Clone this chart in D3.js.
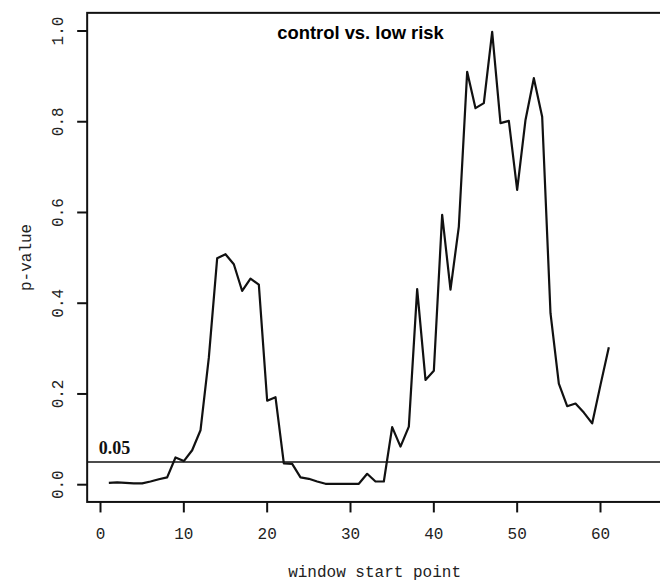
<!DOCTYPE html>
<html>
<head>
<meta charset="utf-8">
<script src="https://cdn.jsdelivr.net/npm/d3@7"></script>
<style>
  body { margin: 0; background: #fff; }
  svg { display: block; }
</style>
</head>
<body>
<svg id="chart" width="660" height="581"></svg>
<script>
// window start points and p-values
let windowStart = d3.range(1, 62)
let pValues = [
  0.004, 0.005, 0.004, 0.003, 0.003, 0.007, 0.012, 0.016, 0.060, 0.052,
  0.076, 0.120, 0.280, 0.499, 0.508, 0.486, 0.427, 0.454, 0.441, 0.185,
  0.193, 0.047, 0.046, 0.016, 0.013, 0.007, 0.002, 0.002, 0.002, 0.002,
  0.002, 0.024, 0.007, 0.007, 0.127, 0.084, 0.128, 0.431, 0.231, 0.251,
  0.595, 0.430, 0.569, 0.910, 0.830, 0.841, 0.998, 0.797, 0.802, 0.650,
  0.804, 0.896, 0.811, 0.378, 0.223, 0.173, 0.179, 0.159, 0.135, 0.220,
  0.303
]
let xTicks = [0, 10, 20, 30, 40, 50, 60]
let yTicks = [0.0, 0.2, 0.4, 0.6, 0.8, 1.0]
let cutoff = 0.05

let svg = d3.select('#chart')
let monoFont = '"Courier New", "Liberation Mono", "DejaVu Sans Mono", monospace'

let x = d3.scaleLinear().domain([0, 60]).range([100.5, 600.5])
let y = d3.scaleLinear().domain([0, 1]).range([484.7, 31])

// plot region (R style, extended a bit past data)
let plotLeft = x(-1.6)
let plotRight = 662
let plotTop = y(1.04)
let plotBottom = y(-0.038)

svg.append('rect')
  .attr('x', plotLeft).attr('y', plotTop)
  .attr('width', plotRight - plotLeft).attr('height', plotBottom - plotTop)
  .attr('fill', 'none')
  .attr('stroke', '#111')
  .attr('stroke-width', 2)

// x axis
let xAxis = svg.append('g').attr('class', 'x-axis')
xAxis.selectAll('line')
  .data(xTicks)
  .enter()
  .append('line')
  .attr('x1', d => x(d)).attr('x2', d => x(d))
  .attr('y1', plotBottom).attr('y2', plotBottom + 10.5)
  .attr('stroke', '#111').attr('stroke-width', 2)
xAxis.selectAll('text')
  .data(xTicks)
  .enter()
  .append('text')
  .attr('x', d => x(d))
  .attr('y', 538.5)
  .attr('text-anchor', 'middle')
  .style('font-family', monoFont)
  .style('font-size', '16px')
  .attr('fill', '#222')
  .text(d => d)

// y axis
let yAxis = svg.append('g').attr('class', 'y-axis')
yAxis.selectAll('line')
  .data(yTicks)
  .enter()
  .append('line')
  .attr('x1', plotLeft - 10).attr('x2', plotLeft)
  .attr('y1', d => y(d)).attr('y2', d => y(d))
  .attr('stroke', '#111').attr('stroke-width', 2)
yAxis.selectAll('text')
  .data(yTicks)
  .enter()
  .append('text')
  .attr('transform', d => `translate(62.5, ${y(d)}) rotate(-90)`)
  .attr('text-anchor', 'middle')
  .style('font-family', monoFont)
  .style('font-size', '16px')
  .attr('fill', '#222')
  .text(d => d3.format('.1f')(d))

// axis titles
svg.append('text')
  .attr('x', (plotLeft + plotRight) / 2)
  .attr('y', 577)
  .attr('text-anchor', 'middle')
  .style('font-family', monoFont)
  .style('font-size', '16px')
  .attr('fill', '#222')
  .text('window start point')

svg.append('text')
  .attr('transform', `translate(31, ${(plotTop + plotBottom) / 2}) rotate(-90)`)
  .attr('text-anchor', 'middle')
  .style('font-family', monoFont)
  .style('font-size', '16px')
  .attr('fill', '#222')
  .text('p-value')

// 0.05 cutoff line
svg.append('line')
  .attr('x1', plotLeft).attr('x2', plotRight)
  .attr('y1', y(cutoff)).attr('y2', y(cutoff))
  .attr('stroke', '#111')
  .attr('stroke-width', 1.6)

svg.append('text')
  .attr('x', x(-0.2))
  .attr('y', y(cutoff) - 8.5)
  .style('font-family', '"Liberation Serif", "Times New Roman", serif')
  .style('font-weight', 'bold')
  .style('font-size', '18px')
  .attr('fill', '#111')
  .text('0.05')

// p-value curve
let line = d3.line()
  .x((d, i) => x(windowStart[i]))
  .y(d => y(d))

svg.append('path')
  .datum(pValues)
  .attr('d', line)
  .attr('fill', 'none')
  .attr('stroke', '#111')
  .attr('stroke-width', 2.2)
  .attr('stroke-linejoin', 'round')

// title inside the plot
svg.append('text')
  .attr('x', x(31.2))
  .attr('y', 38.5)
  .attr('text-anchor', 'middle')
  .style('font-family', '"Liberation Sans", Arial, sans-serif')
  .style('font-weight', 'bold')
  .style('font-size', '18.4px')
  .attr('fill', '#000')
  .text('control vs. low risk')
</script>
</body>
</html>
